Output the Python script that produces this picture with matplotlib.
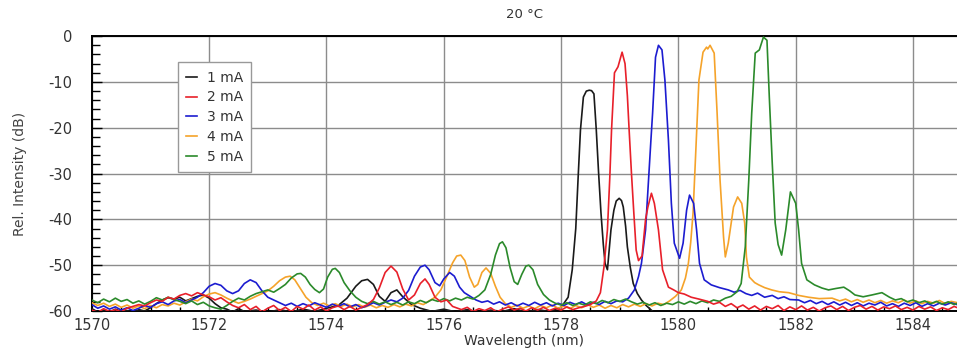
import matplotlib
matplotlib.use("Agg")
import matplotlib.pyplot as plt
from matplotlib.ticker import MultipleLocator

plt.rcParams['font.family'] = ['DejaVu Sans']
plt.rcParams['axes.unicode_minus'] = False

# ---- data (wavelength nm, relative intensity dB) ----
labels = ["1 mA", "2 mA", "3 mA", "4 mA", "5 mA"]
colors = ["#1a1a1a", "#e8202a", "#1c1cd0", "#f5a32a", "#2b8a2b"]

black = [(1570.0, -59.5), (1570.1, -60.2), (1570.2, -59.8), (1570.3, -60.3), (1570.4, -59.6), (1570.5, -60.1),
         (1570.6, -59.9), (1570.7, -60.4), (1570.8, -59.7), (1570.9, -60.0), (1571.0, -59.3), (1571.1, -58.4),
         (1571.2, -57.6), (1571.3, -57.1), (1571.4, -57.4), (1571.5, -57.0), (1571.6, -57.8), (1571.7, -57.3),
         (1571.8, -56.8), (1571.9, -56.5), (1572.0, -57.2), (1572.1, -58.4), (1572.2, -59.3), (1572.3, -59.6),
         (1572.4, -60.2), (1572.5, -59.5), (1572.6, -60.1), (1572.8, -59.8), (1573.0, -60.3), (1573.2, -59.7),
         (1573.4, -60.2), (1573.6, -59.6), (1573.8, -60.1), (1574.0, -59.4), (1574.2, -58.8), (1574.35, -57.2),
         (1574.5, -54.6), (1574.6, -53.4), (1574.7, -53.1), (1574.8, -54.2), (1574.9, -56.8), (1575.0, -57.9),
         (1575.1, -56.0), (1575.2, -55.4), (1575.3, -56.9), (1575.45, -58.6), (1575.6, -59.4), (1575.8, -60.1),
         (1576.0, -59.6), (1576.2, -60.2), (1576.4, -59.7), (1576.6, -60.3), (1576.8, -59.8), (1577.0, -60.1),
         (1577.2, -59.5), (1577.4, -60.2), (1577.6, -59.7), (1577.8, -60.1), (1578.0, -59.2), (1578.12, -57.0),
         (1578.19, -51.0), (1578.25, -42.0), (1578.29, -31.0), (1578.33, -20.5), (1578.38, -13.3), (1578.43, -12.0),
         (1578.48, -11.8), (1578.52, -11.9), (1578.56, -12.6), (1578.6, -20.5), (1578.64, -30.0), (1578.68, -38.6),
         (1578.72, -45.5), (1578.75, -49.6), (1578.79, -51.0), (1578.85, -42.3), (1578.9, -38.0), (1578.94, -36.0),
         (1578.99, -35.4), (1579.03, -35.9), (1579.06, -37.3), (1579.1, -41.5), (1579.13, -46.0), (1579.18, -50.5),
         (1579.23, -54.0), (1579.3, -56.2), (1579.37, -57.6), (1579.45, -58.8), (1579.52, -59.6), (1579.6, -60.5)]

red = [(1570.0, -59.8), (1570.1, -60.3), (1570.2, -59.5), (1570.3, -60.1), (1570.4, -59.7), (1570.5, -60.2),
       (1570.6, -59.4), (1570.7, -59.0), (1570.8, -58.6), (1570.9, -58.9), (1571.0, -58.2), (1571.1, -57.6),
       (1571.2, -57.9), (1571.3, -57.0), (1571.4, -57.4), (1571.5, -56.6), (1571.6, -56.2), (1571.7, -56.7),
       (1571.8, -56.0), (1571.9, -56.5), (1572.0, -56.9), (1572.1, -57.6), (1572.2, -57.1), (1572.3, -58.0),
       (1572.4, -58.8), (1572.5, -59.3), (1572.6, -58.6), (1572.7, -59.7), (1572.8, -59.0), (1572.9, -60.2),
       (1573.0, -59.4), (1573.1, -58.8), (1573.2, -59.9), (1573.3, -59.2), (1573.4, -60.1), (1573.5, -59.0),
       (1573.6, -59.6), (1573.7, -58.7), (1573.8, -59.8), (1573.9, -59.1), (1574.0, -60.0), (1574.1, -59.3),
       (1574.2, -58.9), (1574.3, -59.7), (1574.4, -59.0), (1574.5, -59.8), (1574.6, -59.2), (1574.7, -58.6),
       (1574.8, -57.5), (1574.9, -55.0), (1575.0, -51.6), (1575.1, -50.2), (1575.2, -51.5), (1575.3, -55.2),
       (1575.4, -57.6), (1575.5, -56.5), (1575.6, -54.0), (1575.68, -53.0), (1575.75, -54.2), (1575.85, -57.0),
       (1575.95, -58.0), (1576.05, -57.6), (1576.15, -59.0), (1576.3, -59.7), (1576.4, -59.2), (1576.5, -60.1),
       (1576.6, -59.5), (1576.7, -59.9), (1576.8, -59.3), (1576.9, -60.2), (1577.0, -59.6), (1577.1, -59.1),
       (1577.2, -59.8), (1577.3, -59.4), (1577.4, -60.0), (1577.5, -59.3), (1577.6, -59.8), (1577.7, -59.2),
       (1577.8, -59.9), (1577.9, -59.4), (1578.0, -59.8), (1578.1, -59.1), (1578.2, -59.7), (1578.3, -59.3),
       (1578.4, -59.0), (1578.5, -58.6), (1578.6, -57.8), (1578.67, -56.0), (1578.73, -50.5), (1578.79, -42.3),
       (1578.83, -31.0), (1578.86, -20.5), (1578.91, -8.0), (1578.97, -6.7), (1579.04, -3.5), (1579.09, -6.0),
       (1579.13, -13.0), (1579.16, -20.5), (1579.2, -30.0), (1579.24, -38.6), (1579.28, -46.7), (1579.32, -49.0),
       (1579.38, -48.0), (1579.44, -40.0), (1579.48, -37.3), (1579.54, -34.3), (1579.59, -36.5), (1579.66, -42.3),
       (1579.73, -51.0), (1579.83, -54.8), (1579.92, -55.4), (1580.0, -56.0), (1580.1, -56.3), (1580.22, -57.0),
       (1580.35, -57.4), (1580.5, -57.9), (1580.6, -58.5), (1580.7, -58.1), (1580.8, -59.0), (1580.9, -58.4),
       (1581.0, -59.3), (1581.1, -58.7), (1581.2, -59.6), (1581.3, -58.9), (1581.4, -59.8), (1581.5, -59.0),
       (1581.6, -59.5), (1581.7, -58.8), (1581.8, -59.9), (1581.9, -59.1), (1582.0, -59.7), (1582.1, -58.9),
       (1582.2, -59.8), (1582.3, -59.2), (1582.4, -60.0), (1582.5, -59.3), (1582.6, -58.9), (1582.7, -59.7),
       (1582.8, -59.0), (1582.9, -59.9), (1583.0, -59.2), (1583.1, -58.8), (1583.2, -59.6), (1583.3, -59.0),
       (1583.4, -59.8), (1583.5, -59.1), (1583.6, -59.5), (1583.7, -58.9), (1583.8, -59.7), (1583.9, -59.2),
       (1584.0, -59.8), (1584.1, -59.0), (1584.2, -59.6), (1584.3, -59.1), (1584.4, -59.9), (1584.5, -59.3),
       (1584.6, -59.7), (1584.7, -59.0), (1584.8, -59.5)]

blue = [(1570.0, -58.6), (1570.1, -59.4), (1570.2, -58.9), (1570.3, -59.6), (1570.4, -59.1), (1570.5, -59.8),
        (1570.6, -59.3), (1570.7, -59.9), (1570.8, -59.4), (1570.9, -58.8), (1571.0, -59.2), (1571.1, -58.4),
        (1571.2, -58.0), (1571.3, -58.6), (1571.4, -57.8), (1571.5, -57.5), (1571.6, -58.2), (1571.7, -57.6),
        (1571.8, -57.0), (1571.9, -56.0), (1572.0, -54.6), (1572.1, -54.0), (1572.2, -54.4), (1572.3, -55.6),
        (1572.4, -56.2), (1572.5, -55.6), (1572.6, -54.0), (1572.7, -53.2), (1572.8, -53.8), (1572.9, -55.6),
        (1573.0, -57.0), (1573.1, -57.6), (1573.2, -58.2), (1573.3, -58.8), (1573.4, -58.3), (1573.5, -59.0),
        (1573.6, -58.4), (1573.7, -58.9), (1573.8, -58.2), (1573.9, -58.7), (1574.0, -59.2), (1574.1, -58.5),
        (1574.2, -59.0), (1574.3, -58.4), (1574.4, -59.1), (1574.5, -58.6), (1574.6, -59.3), (1574.7, -58.8),
        (1574.8, -58.2), (1574.9, -58.7), (1575.0, -58.1), (1575.1, -57.6), (1575.2, -58.0), (1575.3, -57.2),
        (1575.4, -55.5), (1575.5, -52.4), (1575.6, -50.4), (1575.68, -50.0), (1575.75, -51.0), (1575.85, -53.8),
        (1575.93, -54.5), (1576.0, -53.0), (1576.1, -51.6), (1576.18, -52.4), (1576.27, -54.8), (1576.35, -56.0),
        (1576.45, -56.8), (1576.55, -57.6), (1576.65, -58.1), (1576.75, -57.8), (1576.85, -58.5), (1576.95, -58.0),
        (1577.05, -58.7), (1577.15, -58.2), (1577.25, -58.9), (1577.35, -58.3), (1577.45, -58.8), (1577.55, -58.1),
        (1577.65, -58.7), (1577.75, -58.2), (1577.85, -58.9), (1577.95, -58.3), (1578.05, -58.8), (1578.15, -58.1),
        (1578.25, -58.6), (1578.35, -58.0), (1578.45, -58.7), (1578.55, -58.1), (1578.65, -58.6), (1578.75, -57.9),
        (1578.85, -58.4), (1578.95, -57.8), (1579.05, -58.0), (1579.15, -57.2), (1579.25, -55.4), (1579.32, -52.5),
        (1579.37, -49.6), (1579.44, -42.3), (1579.49, -31.4), (1579.53, -23.0), (1579.56, -16.8), (1579.61, -4.6),
        (1579.66, -2.0), (1579.72, -3.0), (1579.77, -9.6), (1579.83, -22.7), (1579.88, -36.5), (1579.93, -45.2),
        (1580.02, -48.5), (1580.08, -45.2), (1580.14, -38.0), (1580.19, -34.7), (1580.26, -36.5), (1580.31, -42.3),
        (1580.36, -49.6), (1580.44, -53.2), (1580.56, -54.3), (1580.7, -54.9), (1580.85, -55.4), (1580.95, -55.9),
        (1581.05, -55.5), (1581.15, -56.2), (1581.25, -56.6), (1581.35, -56.1), (1581.47, -57.0), (1581.6, -56.6),
        (1581.7, -57.3), (1581.8, -56.9), (1581.9, -57.5), (1582.05, -57.6), (1582.15, -58.2), (1582.25, -57.7),
        (1582.35, -58.4), (1582.45, -57.9), (1582.55, -58.6), (1582.65, -58.0), (1582.75, -58.7), (1582.85, -58.1),
        (1582.95, -58.8), (1583.05, -58.2), (1583.15, -58.9), (1583.25, -58.3), (1583.35, -58.7), (1583.45, -58.1),
        (1583.55, -58.9), (1583.65, -58.4), (1583.75, -59.0), (1583.85, -58.3), (1583.95, -58.8), (1584.05, -58.2),
        (1584.15, -59.0), (1584.25, -58.4), (1584.35, -58.9), (1584.45, -58.3), (1584.55, -58.7), (1584.65, -58.2),
        (1584.8, -58.8)]

orange = [(1570.0, -58.2), (1570.1, -58.8), (1570.2, -58.3), (1570.3, -59.0), (1570.4, -58.5), (1570.5, -59.2),
          (1570.6, -58.7), (1570.7, -59.4), (1570.8, -58.9), (1570.9, -59.5), (1571.0, -58.8), (1571.1, -59.3),
          (1571.2, -58.6), (1571.3, -58.9), (1571.4, -58.3), (1571.5, -58.7), (1571.6, -58.0), (1571.7, -57.4),
          (1571.8, -57.8), (1571.9, -56.9), (1572.0, -56.3), (1572.1, -56.0), (1572.2, -56.5), (1572.3, -57.2),
          (1572.4, -57.8), (1572.5, -58.3), (1572.6, -57.9), (1572.7, -57.4), (1572.8, -56.8), (1572.9, -56.2),
          (1573.0, -55.6), (1573.1, -54.6), (1573.2, -53.4), (1573.3, -52.6), (1573.38, -52.4), (1573.46, -53.2),
          (1573.55, -55.0), (1573.65, -57.0), (1573.75, -58.2), (1573.85, -58.8), (1573.95, -58.3), (1574.05, -58.9),
          (1574.15, -58.4), (1574.25, -59.0), (1574.35, -58.5), (1574.45, -59.1), (1574.55, -58.6), (1574.65, -59.2),
          (1574.75, -58.7), (1574.85, -59.3), (1574.95, -58.8), (1575.05, -59.2), (1575.15, -58.6), (1575.25, -59.1),
          (1575.35, -58.5), (1575.45, -58.9), (1575.55, -58.2), (1575.65, -58.6), (1575.75, -57.8), (1575.85, -57.0),
          (1575.95, -55.4), (1576.05, -52.5), (1576.15, -49.5), (1576.22, -48.0), (1576.29, -47.8), (1576.36, -49.0),
          (1576.44, -52.6), (1576.52, -54.8), (1576.58, -54.2), (1576.65, -51.6), (1576.72, -50.6), (1576.8, -51.8),
          (1576.88, -54.6), (1576.96, -57.0), (1577.05, -58.4), (1577.15, -59.2), (1577.25, -58.7), (1577.35, -59.4),
          (1577.45, -58.9), (1577.55, -59.5), (1577.65, -58.8), (1577.75, -59.3), (1577.85, -58.7), (1577.95, -59.4),
          (1578.05, -58.9), (1578.15, -59.5), (1578.25, -58.8), (1578.35, -59.3), (1578.45, -58.6), (1578.55, -59.2),
          (1578.65, -58.7), (1578.75, -59.4), (1578.85, -58.8), (1578.95, -59.3), (1579.05, -58.6), (1579.15, -59.1),
          (1579.25, -58.5), (1579.35, -59.0), (1579.45, -58.4), (1579.55, -58.9), (1579.65, -58.3), (1579.75, -58.6),
          (1579.85, -57.8), (1579.95, -56.8), (1580.05, -55.4), (1580.12, -52.8), (1580.17, -49.6), (1580.21, -45.0),
          (1580.25, -38.6), (1580.3, -24.2), (1580.35, -9.6), (1580.42, -3.5), (1580.48, -2.4), (1580.5, -2.8),
          (1580.54, -2.0), (1580.61, -3.7), (1580.66, -16.8), (1580.71, -31.4), (1580.77, -43.9), (1580.8, -48.2),
          (1580.85, -45.2), (1580.94, -37.3), (1581.01, -35.1), (1581.08, -36.5), (1581.13, -40.8), (1581.16, -48.2),
          (1581.21, -52.6), (1581.3, -53.8), (1581.37, -54.3), (1581.47, -54.9), (1581.59, -55.4), (1581.72, -55.8),
          (1581.88, -56.0), (1582.05, -56.6), (1582.22, -57.0), (1582.4, -57.3), (1582.62, -57.2), (1582.75, -57.8),
          (1582.85, -57.4), (1582.95, -58.0), (1583.05, -57.5), (1583.15, -58.1), (1583.25, -57.6), (1583.35, -58.2),
          (1583.45, -57.7), (1583.55, -58.3), (1583.65, -57.8), (1583.75, -58.2), (1583.85, -57.6), (1583.95, -58.3),
          (1584.05, -57.8), (1584.15, -58.4), (1584.25, -57.9), (1584.35, -58.3), (1584.45, -57.7), (1584.55, -58.4),
          (1584.65, -57.9), (1584.8, -58.3)]

green = [(1570.0, -57.6), (1570.1, -58.2), (1570.2, -57.4), (1570.3, -58.0), (1570.4, -57.2), (1570.5, -57.9),
         (1570.6, -57.5), (1570.7, -58.3), (1570.8, -57.8), (1570.9, -58.5), (1571.0, -57.9), (1571.1, -57.1),
         (1571.2, -57.6), (1571.3, -57.0), (1571.4, -57.5), (1571.5, -57.9), (1571.6, -58.4), (1571.7, -57.8),
         (1571.8, -58.6), (1571.9, -58.1), (1572.0, -58.9), (1572.1, -59.3), (1572.2, -59.6), (1572.3, -58.8),
         (1572.4, -57.9), (1572.5, -57.2), (1572.6, -57.6), (1572.7, -56.8), (1572.8, -56.2), (1572.9, -55.8),
         (1573.0, -55.4), (1573.1, -55.9), (1573.2, -55.1), (1573.3, -54.2), (1573.4, -52.8), (1573.5, -51.9),
         (1573.56, -51.8), (1573.64, -52.6), (1573.72, -54.2), (1573.8, -55.3), (1573.88, -56.0), (1573.95, -55.2),
         (1574.02, -52.6), (1574.1, -50.9), (1574.15, -50.7), (1574.22, -51.6), (1574.3, -53.8), (1574.4, -55.6),
         (1574.5, -57.0), (1574.6, -57.9), (1574.7, -58.4), (1574.8, -57.9), (1574.9, -58.5), (1575.0, -58.0),
         (1575.1, -58.6), (1575.2, -58.1), (1575.3, -58.7), (1575.4, -58.0), (1575.5, -58.4), (1575.6, -57.7),
         (1575.7, -58.2), (1575.8, -57.5), (1575.9, -57.9), (1576.0, -57.3), (1576.1, -57.8), (1576.2, -57.2),
         (1576.3, -57.6), (1576.4, -57.0), (1576.5, -57.4), (1576.6, -56.6), (1576.7, -55.4), (1576.8, -52.0),
         (1576.88, -47.8), (1576.95, -45.3), (1577.0, -44.9), (1577.06, -46.2), (1577.13, -50.5), (1577.2, -53.6),
         (1577.26, -54.2), (1577.33, -52.0), (1577.4, -50.2), (1577.45, -50.0), (1577.52, -51.0), (1577.6, -54.2),
         (1577.7, -56.4), (1577.8, -57.6), (1577.9, -58.3), (1578.0, -58.7), (1578.1, -58.2), (1578.2, -58.8),
         (1578.3, -58.3), (1578.4, -58.7), (1578.5, -58.0), (1578.6, -58.4), (1578.7, -57.7), (1578.8, -58.2),
         (1578.9, -57.5), (1579.0, -57.9), (1579.1, -57.4), (1579.2, -58.0), (1579.3, -58.5), (1579.4, -58.1),
         (1579.5, -58.7), (1579.6, -58.2), (1579.7, -58.8), (1579.8, -58.3), (1579.9, -58.6), (1580.0, -58.0),
         (1580.1, -58.5), (1580.2, -57.9), (1580.3, -58.4), (1580.4, -57.8), (1580.5, -58.2), (1580.6, -57.6),
         (1580.7, -57.9), (1580.8, -57.2), (1580.9, -56.8), (1581.0, -55.8), (1581.07, -54.0), (1581.14, -46.0),
         (1581.2, -31.4), (1581.25, -16.8), (1581.31, -3.7), (1581.38, -3.0), (1581.45, -0.2), (1581.51, -0.9),
         (1581.55, -13.3), (1581.6, -27.7), (1581.65, -40.8), (1581.7, -45.5), (1581.76, -47.8), (1581.83, -42.3),
         (1581.91, -34.0), (1582.0, -36.5), (1582.05, -42.3), (1582.1, -49.6), (1582.19, -53.2), (1582.32, -54.3),
         (1582.45, -55.0), (1582.56, -55.4), (1582.68, -55.1), (1582.82, -54.8), (1582.92, -55.6), (1583.01, -56.5),
         (1583.15, -56.9), (1583.3, -56.5), (1583.47, -56.0), (1583.6, -57.0), (1583.7, -57.6), (1583.8, -57.3),
         (1583.9, -58.0), (1584.0, -57.6), (1584.1, -58.2), (1584.2, -57.8), (1584.3, -58.4), (1584.4, -57.9),
         (1584.5, -58.5), (1584.6, -58.0), (1584.7, -58.6), (1584.8, -58.1)]

series = [black, red, blue, orange, green]
zorders = [3, 6, 4, 3.5, 5]

x_ticks = [1570, 1572, 1574, 1576, 1578, 1580, 1582, 1584]
y_ticks = [0, -10, -20, -30, -40, -50, -60]

# ---- figure ----
fig = plt.figure(figsize=(9.57, 3.51), dpi=100)
ax = fig.add_axes([0.096, 0.114, 0.904, 0.783])

handles = []
for data, lab, col, z in zip(series, labels, colors, zorders):
    xs = [p[0] for p in data]
    ys = [p[1] for p in data]
    h, = ax.plot(xs, ys, color=col, lw=1.2, label=lab, zorder=z)
    handles.append(h)

ax.set_xlim(1570, 1584.75)
ax.set_ylim(-60, 0)
ax.set_xticks(x_ticks)
ax.set_yticks(y_ticks)
ax.yaxis.set_minor_locator(MultipleLocator(2))
ax.xaxis.set_minor_locator(MultipleLocator(0.5))
ax.grid(True, which='major', color='#8c8c8c', lw=1.0, zorder=0)
ax.set_axisbelow(True)

ax.tick_params(axis='y', which='major', direction='in', length=7, width=1, pad=14,
               labelsize=10.5, labelcolor='#333333', color='black')
ax.tick_params(axis='y', which='minor', direction='in', length=6, width=1, color='black')
ax.tick_params(axis='x', which='major', direction='in', length=0, pad=5,
               labelsize=10.5, labelcolor='#333333')
ax.tick_params(axis='x', which='minor', direction='in', length=3, width=1, color='black')

for s in ['left', 'bottom', 'top']:
    ax.spines[s].set_color('black')
    ax.spines[s].set_linewidth(1.4)
ax.spines['right'].set_visible(False)

ax.set_xlabel('Wavelength (nm)', fontsize=10, color='#333333', labelpad=1)
ax.set_ylabel('Rel. Intensity (dB)', fontsize=10, color='#444444', labelpad=15)
ax.set_title('20 °C', fontsize=9.5, color='#333333', pad=13)

leg = ax.legend(handles=handles, loc='upper left', bbox_to_anchor=(0.099, 0.905),
                borderaxespad=0, fontsize=10, handlelength=0.8, handletextpad=0.7,
                labelspacing=0.42, fancybox=False, framealpha=1, edgecolor='#999999',
                borderpad=0.6)
leg.get_frame().set_linewidth(1.0)
leg._legend_box.align = 'left'
for t in leg.get_texts():
    t.set_color('#333333')
leg.set_zorder(10)
# widen frame to the right like the reference
fig.canvas.draw()
frame = leg.get_frame()
frame.set_width(frame.get_width() + 14)

fig.savefig('out.png', dpi=100)
